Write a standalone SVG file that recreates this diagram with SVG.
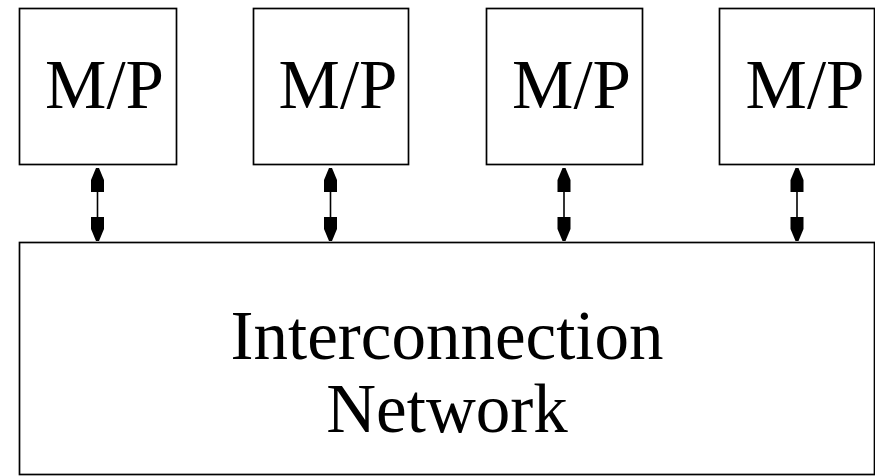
<svg xmlns="http://www.w3.org/2000/svg" width="875" height="476" viewBox="0 0 875 476">
<style>
.box{fill:#fff;stroke:#000;stroke-width:1.7}
.t{font-family:"Liberation Serif","Times New Roman",serif;fill:#000;text-anchor:middle}
.mp{font-size:69px}
.net{font-size:69px}
.conn{stroke:#000;stroke-width:1.6;fill:none}
</style>
<defs>
<marker id="ah" markerUnits="userSpaceOnUse" markerWidth="28" markerHeight="16" viewBox="-26 -8 28 16" refX="0" refY="0" orient="auto-start-reverse">
<path d="M0,-1.5 L-12,-6.5 L-24,-6.5 L-24,6.5 L-12,6.5 L0,1.5 Z" fill="#000"/>
</marker>
</defs>
<rect width="875" height="476" fill="#fff"/>
<g id="mp1"><rect class="box" x="19.5" y="8.5" width="157" height="156"/><text class="t mp" x="104.5" y="108">M/P</text></g>
<g id="mp2"><rect class="box" x="253.5" y="8.5" width="155" height="156"/><text class="t mp" x="338" y="108">M/P</text></g>
<g id="mp3"><rect class="box" x="486.5" y="8.5" width="156" height="156"/><text class="t mp" x="571.5" y="108">M/P</text></g>
<g id="mp4"><rect class="box" x="719.5" y="8.5" width="155" height="156"/><text class="t mp" x="805" y="108">M/P</text></g>
<g id="network"><rect class="box" x="19.5" y="242.5" width="855" height="232"/>
<text class="t net" x="447" y="359">Interconnection</text>
<text class="t net" x="447" y="432">Network</text></g>
<g id="connectors">
<line class="conn" x1="97.5" y1="168" x2="97.5" y2="241" marker-start="url(#ah)" marker-end="url(#ah)"/>
<line class="conn" x1="330.5" y1="168" x2="330.5" y2="241" marker-start="url(#ah)" marker-end="url(#ah)"/>
<line class="conn" x1="564" y1="168" x2="564" y2="241" marker-start="url(#ah)" marker-end="url(#ah)"/>
<line class="conn" x1="797" y1="168" x2="797" y2="241" marker-start="url(#ah)" marker-end="url(#ah)"/>
</g>
</svg>
